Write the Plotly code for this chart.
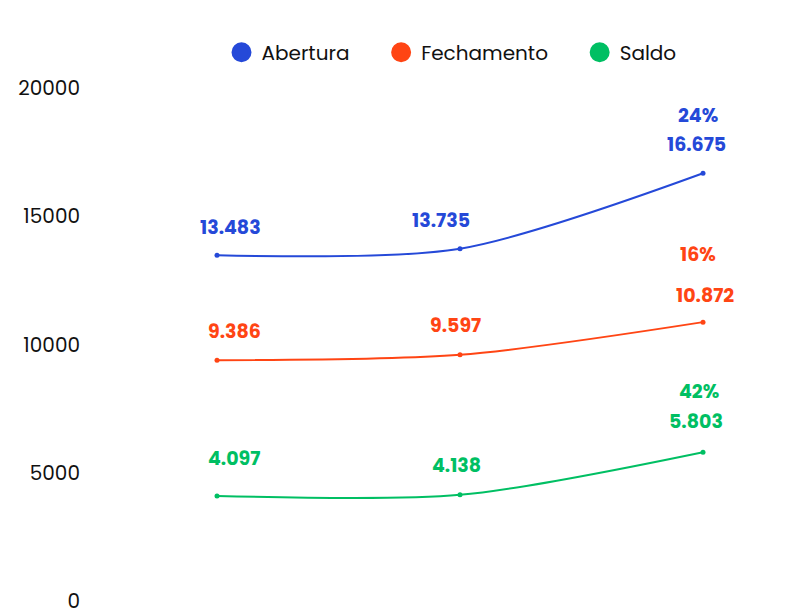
import plotly.graph_objects as go

years = ["2023", "2024", "2025"]
abertura = [13483, 13735, 16675]
fechamento = [9386, 9597, 10872]
saldo = [4097, 4138, 5803]
growth = {"Abertura": "24%", "Fechamento": "16%", "Saldo": "42%"}

names = ["Abertura", "Fechamento", "Saldo"]
values = [abertura, fechamento, saldo]
colors = ["#2549D8", "#FF4514", "#00BF63"]

# label pixel offsets relative to points (style)
label_shift = {
    "Abertura": [28, 28, 29],
    "Fechamento": [29, 29, 27],
    "Saldo": [37, 29, 31],
}
label_xshift = {
    "Abertura": [13, -19, -7],
    "Fechamento": [17, -5, 2],
    "Saldo": [17, -4, -7],
}
pct_shift = {"Abertura": 58, "Fechamento": 68, "Saldo": 61}
pct_xshift = {"Abertura": -5, "Fechamento": -5, "Saldo": -4}

FONT = "Poppins, Inter, sans-serif"
NBSP = "\u00a0"

def fmt(v):
    return f"{v:,}".replace(",", ".")

fig = go.Figure()
for k, (n, vals, c) in enumerate(zip(names, values, colors)):
    fig.add_trace(go.Scatter(
        x=years, y=vals, mode="lines+markers", name=n,
        line=dict(color=c, width=2, shape="spline", smoothing=0.8),
        marker=dict(color=c, size=5),
        showlegend=False, hoverinfo="skip",
    ))
    fig.add_trace(go.Scatter(
        x=[None], y=[None], mode="markers",
        name=n + (NBSP * 5 if k < len(names) - 1 else ""),
        marker=dict(color=c, size=16, symbol="circle", line=dict(color=c, width=4)),
        showlegend=True,
    ))

fig.update_layout(
    width=810, height=614,
    margin=dict(l=87, r=10, t=80, b=21, autoexpand=False),
    paper_bgcolor="white", plot_bgcolor="white",
    font=dict(family=FONT, size=20, color="#111111"),
    legend=dict(orientation="h", x=0.5, xanchor="center", y=0.928, yanchor="middle",
                yref="container", font=dict(size=20), itemsizing="trace",
                itemwidth=30, traceorder="normal"),
    xaxis=dict(type="category", range=[-0.5021, 2.4321], showgrid=False, zeroline=False,
               showline=False, ticks="outside", ticklen=4, tickcolor="rgba(0,0,0,0)",
               tickfont=dict(size=20), automargin=False),
    yaxis=dict(range=[0, 20000], tickvals=[0, 5000, 10000, 15000, 20000],
               ticktext=["0", "5000", "10000", "15000", "20000"],
               showgrid=False, zeroline=False, showline=False,
               ticks="outside", ticklen=10, tickcolor="rgba(0,0,0,0)",
               tickfont=dict(size=20), automargin=False),
)

annotations = []
for n, vals, c in zip(names, values, colors):
    for i, v in enumerate(vals):
        annotations.append(dict(x=i, y=v, xref="x", yref="y", text="<b>" + fmt(v) + "</b>",
                                showarrow=False, yanchor="middle",
                                yshift=label_shift[n][i], xshift=label_xshift[n][i],
                                font=dict(family=FONT, size=19, color=c)))
    annotations.append(dict(x=len(vals) - 1, y=vals[-1], xref="x", yref="y",
                            text="<b>" + growth[n] + "</b>", showarrow=False,
                            yanchor="middle", yshift=pct_shift[n], xshift=pct_xshift[n],
                            font=dict(family=FONT, size=19, color=c)))
fig.update_layout(annotations=annotations)

fig.write_html("out.html")
